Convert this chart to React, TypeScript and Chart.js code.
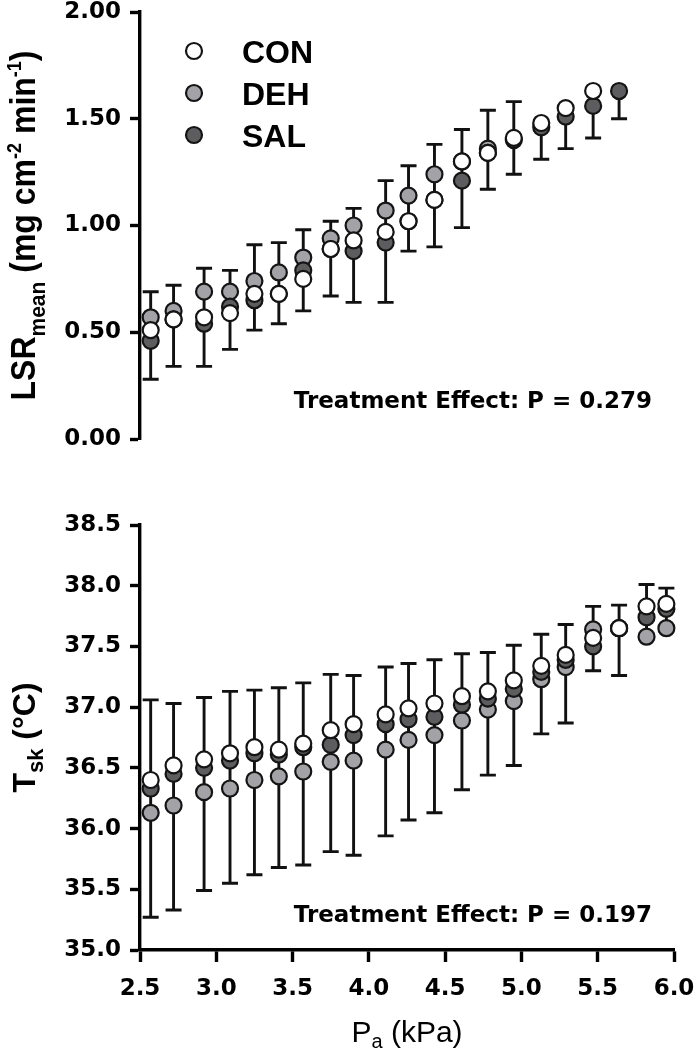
import React, { useEffect, useRef } from 'react';
import { Chart, registerables } from 'chart.js';

Chart.register(...registerables);

// ---- data ----
const PA_KPA = [2.57, 2.72, 2.92, 3.09, 3.25, 3.41, 3.57, 3.75, 3.90, 4.11, 4.26, 4.43, 4.61, 4.78, 4.95, 5.13, 5.29, 5.47, 5.64, 5.82, 5.95];
const X_TICK_MIN = 2.5;
const X_TICK_MAX = 6.0;

const LSR_CON = [0.51, 0.56, 0.57, 0.59, 0.68, 0.68, 0.75, 0.89, 0.93, 0.97, 1.02, 1.12, 1.30, 1.34, 1.41, 1.48, 1.55, 1.63, null];
const LSR_DEH = [0.57, 0.60, 0.69, 0.69, 0.74, 0.78, 0.85, 0.94, 1.00, 1.07, 1.14, 1.24, 1.30, 1.36, null, null, null, null, null];
const LSR_SAL = [0.46, 0.56, 0.54, 0.62, 0.65, 0.68, 0.79, 0.89, 0.88, 0.92, 1.02, 1.12, 1.21, 1.34, 1.40, 1.46, 1.51, 1.56, 1.63];
const LSR_ERR_HIGH = [0.69, 0.72, 0.80, 0.79, 0.91, 0.92, 0.98, 1.02, 1.08, 1.21, 1.28, 1.38, 1.45, 1.54, 1.58, null, null, null, null];
const LSR_ERR_LOW = [0.28, 0.34, 0.34, 0.42, 0.51, 0.54, 0.60, 0.67, 0.64, 0.64, 0.88, 0.90, 0.99, 1.17, 1.24, 1.31, 1.36, 1.41, 1.50];

const TSK_CON = [36.40, 36.52, 36.57, 36.62, 36.67, 36.65, 36.70, 36.81, 36.86, 36.94, 36.99, 37.03, 37.09, 37.13, 37.22, 37.34, 37.43, 37.57, 37.65, 37.83, 37.85];
const TSK_DEH = [36.13, 36.19, 36.30, 36.33, 36.40, 36.43, 36.47, 36.55, 36.56, 36.65, 36.73, 36.77, 36.89, 36.98, 37.05, 37.23, 37.33, 37.64, 37.65, 37.58, 37.65];
const TSK_SAL = [36.33, 36.45, 36.50, 36.56, 36.62, 36.61, 36.67, 36.69, 36.77, 36.86, 36.90, 36.92, 37.02, 37.07, 37.15, 37.29, 37.39, 37.50, 37.65, 37.74, 37.81];
const TSK_ERR_HIGH = [37.06, 37.03, 37.08, 37.13, 37.14, 37.16, 37.20, 37.27, 37.26, 37.33, 37.36, 37.39, 37.44, 37.45, 37.51, 37.60, 37.68, 37.83, 37.84, 38.01, 37.98];
const TSK_ERR_LOW = [35.27, 35.33, 35.49, 35.55, 35.62, 35.68, 35.70, 35.81, 35.78, 35.94, 36.07, 36.13, 36.32, 36.44, 36.52, 36.78, 36.87, 37.30, 37.26, null, null];

const SERIES_NAMES = ['CON', 'DEH', 'SAL'];
const LSR_TICK_RANGE = [0, 2];
const TSK_TICK_RANGE = [35, 38.5];
const P_TEXT_LSR = 'Treatment Effect: P = 0.279';
const P_TEXT_TSK = 'Treatment Effect: P = 0.197';

// ---- styles ----
const FILLS: Record<string, string> = { CON: '#ffffff', DEH: '#a2a2a7', SAL: '#5d5d5f' };
const EDGE = '#141414';
const TICK_FAMILY = '"DejaVu Sans", "Liberation Sans", sans-serif';
const TEXT_FAMILY = '"Liberation Sans", Arial, sans-serif';

type Part = { t: string; size: number; shift?: number };

function drawRich(
  ctx: CanvasRenderingContext2D,
  parts: Part[],
  x: number,
  y: number,
  weight: string,
  rotated: boolean,
  stretch = 1
) {
  ctx.save();
  ctx.translate(x, y);
  if (rotated) {
    ctx.scale(stretch, 1);
    ctx.rotate(-Math.PI / 2);
  }
  const widths = parts.map((p) => {
    ctx.font = `${weight} ${p.size}px ${TEXT_FAMILY}`;
    return ctx.measureText(p.t).width;
  });
  const total = widths.reduce((a, b) => a + b, 0);
  let cx = -total / 2;
  ctx.fillStyle = '#000';
  ctx.textAlign = 'left';
  ctx.textBaseline = 'alphabetic';
  parts.forEach((p, i) => {
    ctx.font = `${weight} ${p.size}px ${TEXT_FAMILY}`;
    ctx.fillText(p.t, cx, p.shift || 0);
    cx += widths[i];
  });
  ctx.restore();
}

function errorBarPlugin(id: string, hi: (number | null)[], lo: (number | null)[], series: (number | null)[][]) {
  return {
    id,
    beforeDatasetsDraw(chart: any) {
      const ctx: CanvasRenderingContext2D = chart.ctx;
      const xs = chart.scales.x;
      const ys = chart.scales.y;
      ctx.save();
      ctx.strokeStyle = '#111';
      ctx.lineWidth = 2.9;
      const capHalf = 8;
      for (let i = 0; i < hi.length; i++) {
        const vals = series.map((s) => s[i]).filter((v) => v != null) as number[];
        if (!vals.length) continue;
        const top = hi[i] != null ? (hi[i] as number) : Math.max(...vals);
        const bot = lo[i] != null ? (lo[i] as number) : Math.min(...vals);
        const px = xs.getPixelForValue(PA_KPA[i]);
        const pt = ys.getPixelForValue(top);
        const pb = ys.getPixelForValue(bot);
        ctx.beginPath();
        ctx.moveTo(px, pt);
        ctx.lineTo(px, pb);
        if (hi[i] != null) {
          ctx.moveTo(px - capHalf, pt);
          ctx.lineTo(px + capHalf, pt);
        }
        if (lo[i] != null) {
          ctx.moveTo(px - capHalf, pb);
          ctx.lineTo(px + capHalf, pb);
        }
        ctx.stroke();
      }
      ctx.restore();
    },
  };
}

function makeDatasets(byName: Record<string, (number | null)[]>) {
  // CON first so it is drawn on top
  return ['CON', 'SAL', 'DEH'].map((name) => ({
    label: name,
    data: byName[name]
      .map((v, i) => (v == null ? null : { x: PA_KPA[i], y: v }))
      .filter((p) => p != null),
    pointRadius: 8,
    pointHoverRadius: 8,
    pointBorderWidth: 2.2,
    pointBackgroundColor: FILLS[name],
    pointBorderColor: EDGE,
    showLine: false,
    clip: false as any,
  }));
}

const tickFont = { family: TICK_FAMILY, size: 23, weight: 'bold' as const };

function axisGrid(len: number) {
  return {
    display: true,
    drawOnChartArea: false,
    drawTicks: true,
    tickLength: len,
    tickWidth: 3.4,
    tickColor: '#000',
    color: '#000',
  };
}

function makeConfig(p: {
  series: Record<string, (number | null)[]>;
  yRange: number[];
  yDecimals: number;
  showX: boolean;
  padding: any;
  plugins: any[];
}): any {
  return {
    type: 'scatter',
    data: { datasets: makeDatasets(p.series) },
    options: {
      responsive: false,
      maintainAspectRatio: false,
      animation: false,
      devicePixelRatio: 1,
      events: [],
      layout: { padding: p.padding },
      plugins: { legend: { display: false }, tooltip: { enabled: false }, title: { display: false } },
      scales: {
        x: {
          type: 'linear',
          display: p.showX,
          min: X_TICK_MIN,
          max: X_TICK_MAX,
          ticks: {
            stepSize: 0.5,
            autoSkip: false,
            maxRotation: 0,
            padding: 13,
            color: '#000',
            font: tickFont,
            callback: (v: any) => Number(v).toFixed(1),
          },
          grid: axisGrid(12),
          border: { display: true, width: 3.4, color: '#000' },
          afterFit: (s: any) => {
            s.height = p.showX ? 100 : 0;
            s.paddingLeft = 0;
            s.paddingRight = 0;
          },
        },
        y: {
          type: 'linear',
          min: p.yRange[0],
          max: p.yRange[1],
          ticks: {
            stepSize: 0.5,
            padding: 9,
            color: '#000',
            font: tickFont,
            callback: (v: any) => Number(v).toFixed(p.yDecimals),
          },
          grid: axisGrid(10),
          border: { display: true, width: 3.4, color: '#000' },
          afterFit: (s: any) => {
            s.width = 140;
            s.paddingTop = 0;
            s.paddingBottom = 0;
          },
        },
      },
    },
    plugins: p.plugins,
  };
}

const topTextPlugin = {
  id: 'topText',
  afterDraw(chart: any) {
    const ctx: CanvasRenderingContext2D = chart.ctx;
    drawRich(
      ctx,
      [
        { t: 'LSR', size: 32 },
        { t: 'mean', size: 21, shift: 9 },
        { t: ' (mg cm', size: 32 },
        { t: '-2', size: 18, shift: -13 },
        { t: ' min', size: 32 },
        { t: '-1', size: 18, shift: -13 },
        { t: ')', size: 32 },
      ],
      35,
      (chart.chartArea.top + chart.chartArea.bottom) / 2,
      'bold',
      true,
      1.08
    );
    // legend
    ctx.save();
    SERIES_NAMES.forEach((name, i) => {
      const cy = 51 + i * 42;
      ctx.beginPath();
      ctx.arc(194, cy, 8, 0, Math.PI * 2);
      ctx.fillStyle = FILLS[name];
      ctx.fill();
      ctx.lineWidth = 2.2;
      ctx.strokeStyle = EDGE;
      ctx.stroke();
      ctx.fillStyle = '#000';
      ctx.font = `bold 32px ${TEXT_FAMILY}`;
      ctx.textAlign = 'left';
      ctx.textBaseline = 'alphabetic';
      ctx.fillText(name, 242, cy + 11.5);
    });
    ctx.font = `bold 23px ${TICK_FAMILY}`;
    ctx.textAlign = 'right';
    ctx.fillText(P_TEXT_LSR, 652, 408);
    ctx.restore();
  },
};

const bottomTextPlugin = {
  id: 'bottomText',
  afterDraw(chart: any) {
    const ctx: CanvasRenderingContext2D = chart.ctx;
    drawRich(
      ctx,
      [
        { t: 'T', size: 32 },
        { t: 'sk', size: 22, shift: 8 },
        { t: ' (°C)', size: 32 },
      ],
      35,
      (chart.chartArea.top + chart.chartArea.bottom) / 2,
      'bold',
      true,
      1.0
    );
    drawRich(
      ctx,
      [
        { t: 'P', size: 30 },
        { t: 'a', size: 20, shift: 6 },
        { t: ' (kPa)', size: 30 },
      ],
      (chart.chartArea.left + chart.chartArea.right) / 2,
      572,
      'normal',
      false
    );
    ctx.save();
    ctx.fillStyle = '#000';
    ctx.font = `bold 23px ${TICK_FAMILY}`;
    ctx.textAlign = 'right';
    ctx.textBaseline = 'alphabetic';
    ctx.fillText(P_TEXT_TSK, 652, 452);
    ctx.restore();
  },
};

export default function App() {
  const topRef = useRef<HTMLCanvasElement>(null);
  const botRef = useRef<HTMLCanvasElement>(null);

  useEffect(() => {
    const lsrSeries = { CON: LSR_CON, DEH: LSR_DEH, SAL: LSR_SAL };
    const tskSeries = { CON: TSK_CON, DEH: TSK_DEH, SAL: TSK_SAL };
    const c1 = new Chart(
      topRef.current as HTMLCanvasElement,
      makeConfig({
        series: lsrSeries,
        yRange: LSR_TICK_RANGE,
        yDecimals: 2,
        showX: false,
        padding: { top: 12, bottom: 31, left: 0, right: 22 },
        plugins: [errorBarPlugin('ebTop', LSR_ERR_HIGH, LSR_ERR_LOW, [LSR_CON, LSR_DEH, LSR_SAL]), topTextPlugin],
      })
    );
    const c2 = new Chart(
      botRef.current as HTMLCanvasElement,
      makeConfig({
        series: tskSeries,
        yRange: TSK_TICK_RANGE,
        yDecimals: 1,
        showX: true,
        padding: { top: 55, bottom: 0, left: 0, right: 22 },
        plugins: [errorBarPlugin('ebBot', TSK_ERR_HIGH, TSK_ERR_LOW, [TSK_CON, TSK_DEH, TSK_SAL]), bottomTextPlugin],
      })
    );
    return () => {
      c1.destroy();
      c2.destroy();
    };
  }, []);

  return (
    <div style={{ position: 'absolute', left: 0, top: 0, width: 696, height: 1050, background: '#fff' }}>
      <canvas ref={topRef} width={696} height={470} style={{ position: 'absolute', left: 0, top: 0, width: 696, height: 470 }} />
      <canvas ref={botRef} width={696} height={580} style={{ position: 'absolute', left: 0, top: 470, width: 696, height: 580 }} />
    </div>
  );
}
